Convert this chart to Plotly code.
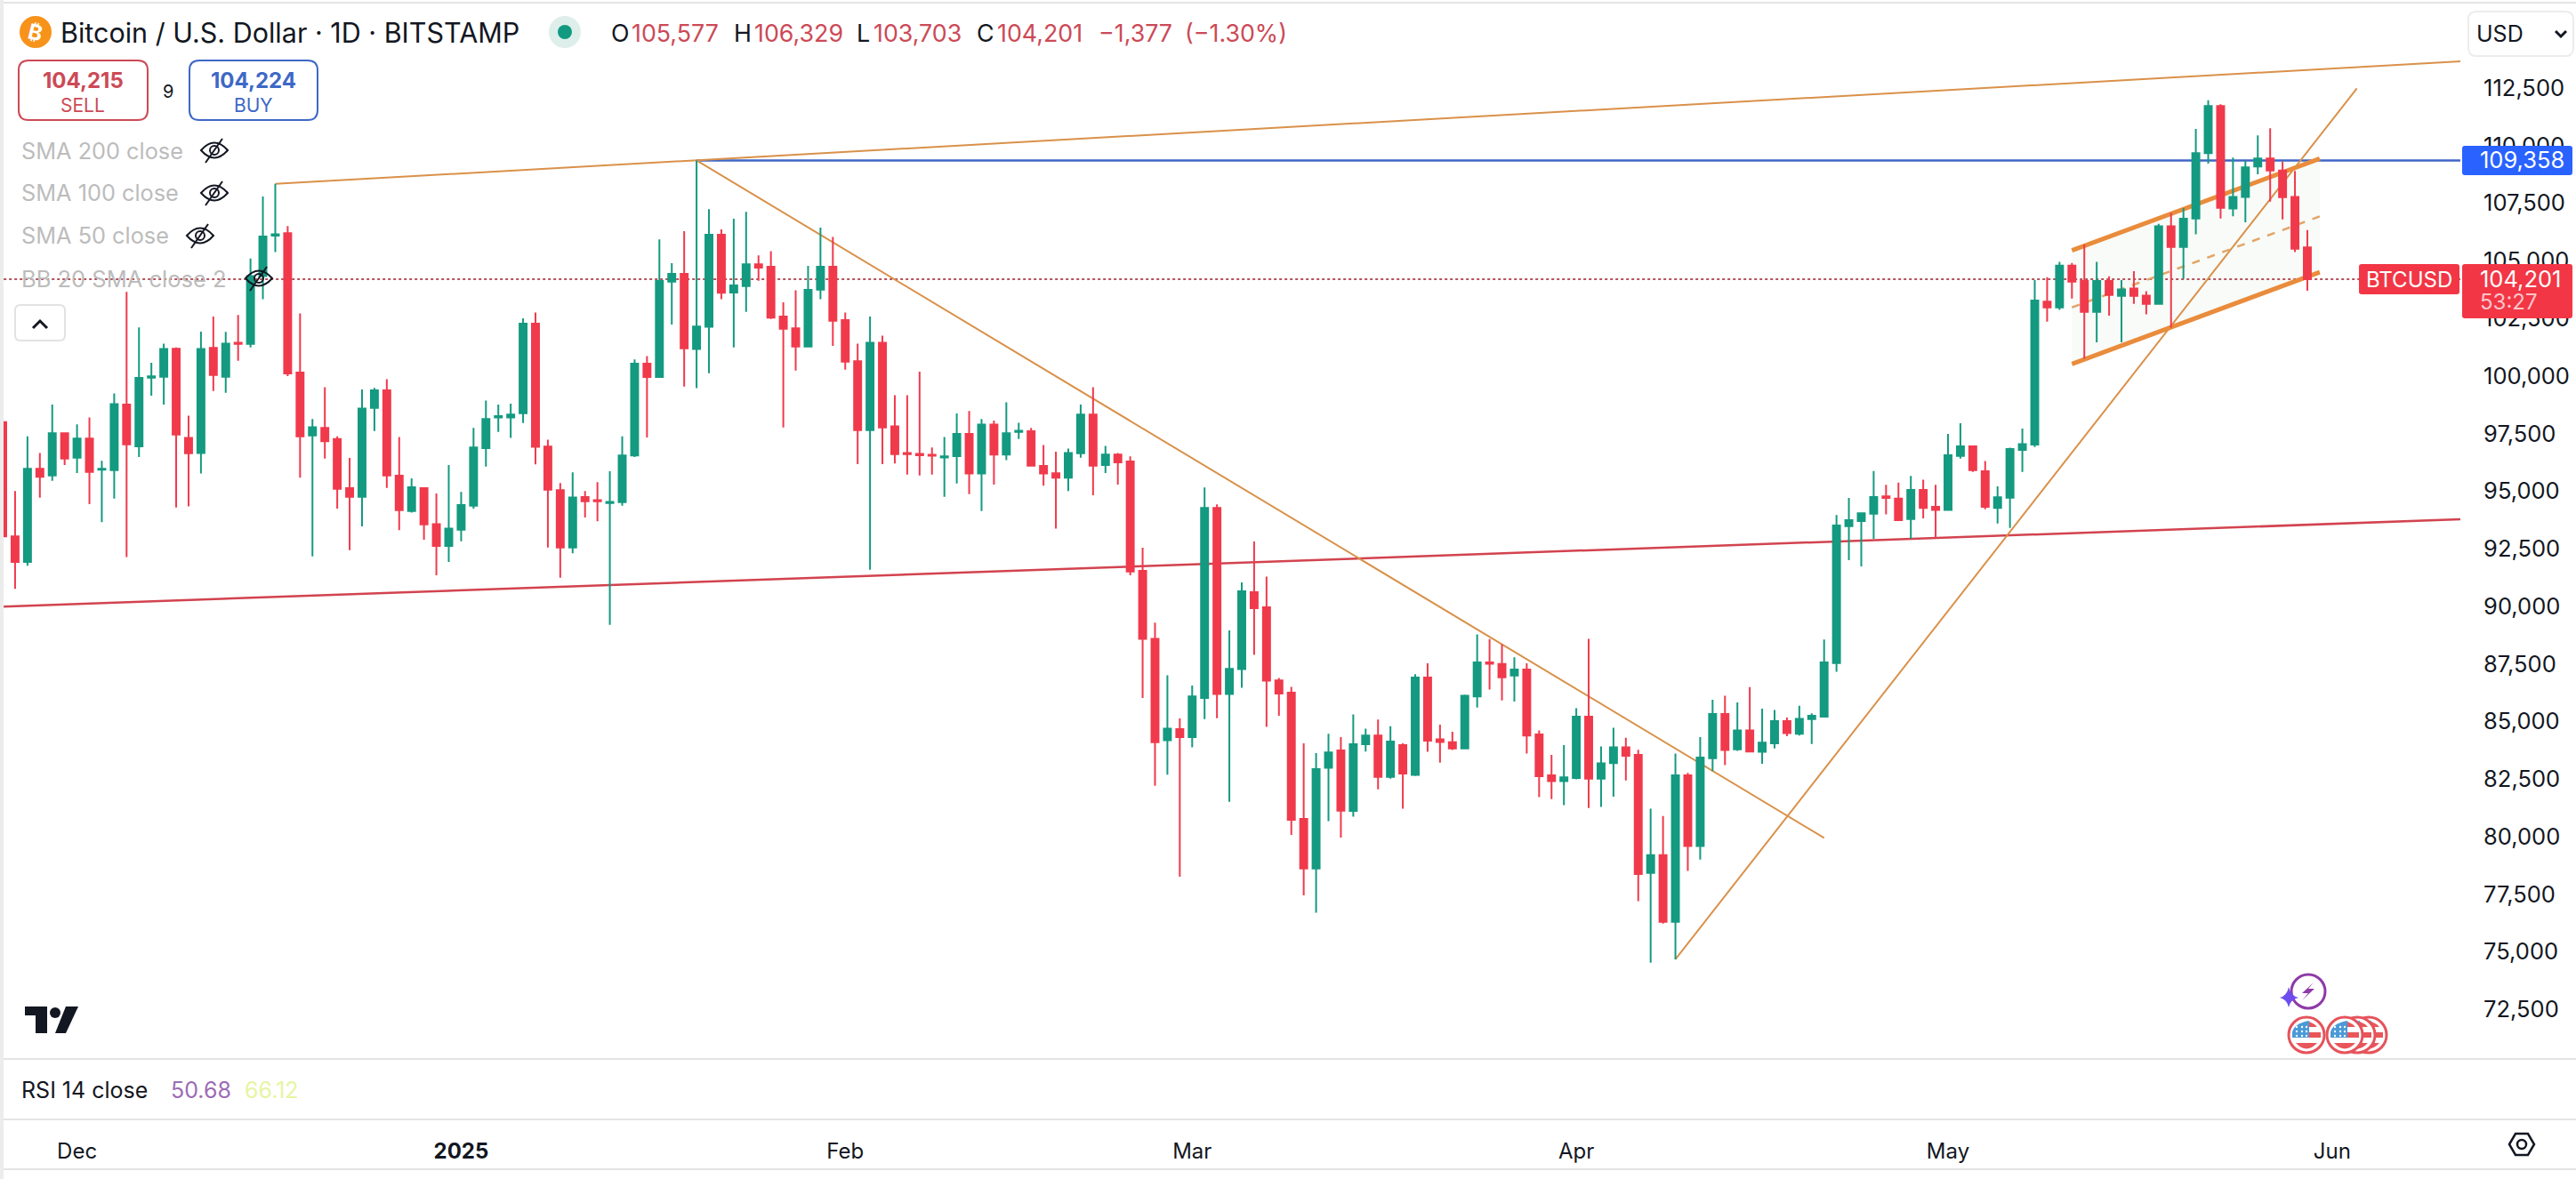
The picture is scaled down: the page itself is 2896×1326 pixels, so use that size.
import pandas as pd
import plotly.graph_objects as go

W, H = 2896, 1326
FONT = "Inter"

# daily candles, BITSTAMP BTCUSD
first_day = "2024-11-25"
opens = [
    97996, 93032, 91928, 95969, 95679, 97514, 96452, 97279, 95928, 95914,
    98755, 96948, 99927, 99968, 101182, 97307, 96659, 101223, 99968, 101444,
    101389, 104340, 106091, 106201, 100148, 97417, 97748, 97265, 95128, 94756,
    98617, 99376, 95666, 94135, 95128, 93570, 92618, 93321, 94369, 96866,
    98203, 98203, 98382, 102271, 96935, 95045, 92549, 94742, 94604, 94480,
    94521, 96548, 100534, 99955, 104091, 104436, 101168, 102133, 106132, 103623,
    103898, 104850, 104740, 102575, 102064, 101278, 103747, 104740, 102423, 100644,
    97651, 101444, 97817, 96659, 96617, 96576, 96466, 96521, 97486, 95762,
    97886, 96590, 97569, 97596, 96093, 95776, 95583, 96645, 98327, 96135,
    96590, 96286, 91541, 88587, 84186, 84673, 84319, 86017, 94274, 86195,
    87273, 90611, 89961, 86785, 86254, 80774, 78618, 82990, 83743, 81114,
    84009, 84393, 82591, 83979, 82679, 86904, 84230, 84097, 83832, 86091,
    87568, 87494, 86992, 87258, 84437, 82665, 82414, 82547, 85205, 82517,
    83196, 83876, 83551, 78425, 79194, 76299, 82665, 79593, 83403, 85323,
    83787, 84614, 83684, 84053, 85013, 84466, 85102, 85205, 87539, 93476,
    93698, 94023, 94776, 94673, 93786, 95057, 94318, 94185, 96530, 96942,
    95860, 94274, 94717, 96787, 97019, 103222, 102976, 104790, 104121, 102782,
    104121, 103477, 103799, 103490, 103130, 106502, 105601, 106836, 109668, 111714,
    107274, 107776, 109089, 109436, 108921, 107776, 105577,
]
highs = [
    97996, 95004, 97376, 96659, 98755, 97514, 97900, 98203, 96314, 99237,
    103650, 102106, 100575, 101402, 101237, 98272, 101926, 102575, 101913, 102643,
    105098, 107787, 108339, 106505, 102712, 98134, 99513, 97376, 96438, 99417,
    99486, 99858, 97348, 95555, 95128, 94894, 96135, 94963, 97748, 98934,
    98755, 98796, 102506, 102754, 97238, 95349, 95817, 95004, 95390, 95859,
    97376, 100713, 100865, 105925, 104891, 106284, 109358, 107236, 106367, 106822,
    107125, 105236, 105415, 103195, 103719, 104781, 106436, 106036, 102754, 101402,
    102575, 101747, 99168, 99168, 100189, 96893, 97348, 98369, 98479, 98134,
    98065, 98851, 97969, 97748, 97003, 96714, 96852, 98755, 99513, 96962,
    96659, 96507, 92546, 89296, 87007, 85131, 86564, 95160, 94421, 88957,
    91039, 92812, 91290, 86889, 86505, 84053, 83625, 84466, 84319, 85308,
    84688, 85087, 84791, 84053, 87051, 87524, 84865, 84555, 86165, 88779,
    88573, 88351, 87790, 87524, 84614, 83551, 83979, 85574, 88587, 83920,
    84732, 84289, 83772, 81217, 80892, 83610, 82768, 84319, 85943, 86121,
    85825, 86490, 85560, 85500, 85175, 85678, 85353, 88558, 93964, 94702,
    94037, 95869, 95278, 95367, 95662, 95500, 95278, 97482, 97945, 96967,
    96311, 95204, 96890, 97714, 104161, 104290, 104958, 104906, 105704, 104958,
    104327, 104160, 104546, 103683, 106605, 107081, 107287, 110723, 111971, 111791,
    109475, 109346, 110440, 110749, 109307, 108896, 106329,
]
lows = [
    92900, 90757, 91763, 94714, 95445, 96135, 95790, 94438, 93652, 94673,
    92135, 96479, 99141, 98755, 94287, 94342, 95762, 99348, 99265, 100658,
    101237, 103333, 105374, 99996, 95583, 92163, 96410, 94245, 92439, 93473,
    97610, 95142, 93308, 94066, 92894, 91349, 91928, 92825, 94245, 96065,
    97569, 97307, 97955, 96162, 92549, 91239, 92301, 93859, 93694, 89198,
    94369, 96479, 97334, 99955, 102230, 99541, 99472, 100120, 103333, 101237,
    102781, 104133, 102478, 97762, 100230, 101278, 103333, 101306, 100272, 96176,
    91584, 96176, 96203, 95721, 95679, 95721, 94756, 95335, 94866, 94135,
    95280, 96341, 97265, 96107, 95238, 93377, 95004, 96452, 94825, 95790,
    95280, 91349, 86017, 82207, 82694, 78263, 83876, 85102, 85146, 81513,
    86461, 87893, 84762, 85249, 80080, 77451, 76698, 80671, 79962, 80863,
    83699, 82059, 82517, 81217, 82635, 83684, 83211, 83758, 83832, 85604,
    86387, 85914, 85870, 83610, 81720, 81631, 81365, 82488, 81247, 81291,
    81734, 82443, 77200, 74527, 76225, 74674, 78514, 79002, 82842, 83108,
    83728, 83699, 83167, 83832, 84363, 84393, 84023, 85175, 87155, 92000,
    91733, 92930, 93993, 93698, 92930, 93816, 92959, 94185, 96414, 95835,
    94215, 93594, 93402, 95835, 96916, 102360, 102873, 103362, 100749, 101457,
    102615, 101457, 103130, 102679, 103130, 102100, 104224, 106154, 109217, 106836,
    106927, 106669, 108754, 107570, 106798, 105382, 103703,
]
closes = [
    93032, 91928, 95969, 95625, 97514, 96410, 97279, 95831, 95969, 98782,
    97031, 99913, 99982, 101168, 97458, 96645, 101168, 100037, 101402, 101389,
    104340, 106050, 106146, 100106, 97376, 97776, 97169, 95100, 94756, 98589,
    99376, 95679, 94177, 95169, 93556, 92618, 93377, 94397, 96893, 98134,
    98258, 98327, 102271, 96921, 95059, 92549, 94728, 94562, 94562, 94535,
    96548, 100534, 99955, 104119, 104436, 101196, 102147, 106132, 103609, 103926,
    104850, 104698, 102533, 102050, 101278, 103733, 104740, 102395, 100616, 97651,
    101444, 97762, 96604, 96604, 96562, 96535, 96507, 97486, 95762, 97886,
    96590, 97514, 97624, 96107, 95762, 95583, 96659, 98327, 96107, 96590,
    96245, 91515, 88587, 84097, 84688, 84319, 86091, 94274, 86195, 87288,
    90655, 89917, 86771, 86209, 80730, 78618, 82930, 83654, 81129, 84009,
    84393, 82591, 84127, 82738, 86904, 84171, 84112, 83832, 86121, 87568,
    87509, 86918, 87258, 84393, 82620, 82414, 82576, 85205, 82517, 83182,
    83876, 83507, 78381, 79194, 76299, 82665, 79593, 83433, 85323, 83758,
    84614, 83699, 84083, 85013, 84496, 85116, 85249, 87568, 93506, 93742,
    94037, 94746, 94702, 93742, 95057, 94274, 94185, 96555, 96942, 95912,
    94318, 94732, 96825, 97044, 103273, 102977, 104790, 104095, 102782, 104121,
    103516, 103760, 103477, 103130, 106502, 105601, 106823, 109668, 111714, 107300,
    107776, 109050, 109436, 108921, 107763, 105524, 104201,
]
days = pd.date_range(first_day, periods=len(opens))

# drawings on the chart
top_x, top_y = ["2024-12-17", "2025-06-11 08:24"], [108339, 113658]
fall_x, fall_y = ["2025-01-20", "2025-04-21"], [109358, 79947]
rise_x, rise_y = ["2025-04-09", "2025-06-03"], [74674, 112486]
support_x, support_y = ["2024-11-25 02:00", "2025-06-11 08:24"], [89990, 93775]
peak_x, peak_y = ["2025-01-20", "2025-06-11 08:24"], [109358, 109358]
last_x, last_y = ["2024-11-25 02:00", "2025-06-11 08:24"], [104201, 104201]
channel_x = ["2025-05-11", "2025-05-31"]
channel_up = [105447, 109436]
channel_mid = [102976, 106927]
channel_low = [100517, 104507]

price_ticks = list(range(72500, 112501, 2500))
month_days = ["2024-12-01", "2025-01-01", "2025-02-01", "2025-03-01", "2025-04-01", "2025-05-01", "2025-06-01"]
month_names = ["Dec", "<b>2025</b>", "Feb", "Mar", "Apr", "May", "Jun"]

ORANGE = "#d9914a"
GREEN = "#149a80"
RED = "#f03a4c"


def px(x):
    return x / W


def py(y):
    return 1 - y / H


def trend(xs, ys, color=ORANGE, width=2, dash="solid"):
    return dict(type="line", xref="x", yref="y", layer="below", x0=xs[0], x1=xs[1], y0=ys[0], y1=ys[1],
                line=dict(color=color, width=width, dash=dash))


def path(cmds, **kw):
    # cmds are ("M", x, y) / ("L", x, y) / ("Q", cx, cy, x, y) / ("Z",) in screen pixels
    parts = []
    for c in cmds:
        vals = list(c[1:])
        pairs = [f"{px(vals[i]):.5f},{py(vals[i + 1]):.5f}" for i in range(0, len(vals), 2)]
        parts.append(c[0] + " " + " ".join(pairs))
    kw.setdefault("line", dict(width=0))
    return dict(type="path", xref="paper", yref="paper", path=" ".join(parts), **kw)


def round_box(x0, y0, x1, y1, r, **kw):
    return path([("M", x0 + r, y0), ("L", x1 - r, y0), ("Q", x1, y0, x1, y0 + r), ("L", x1, y1 - r),
                 ("Q", x1, y1, x1 - r, y1), ("L", x0 + r, y1), ("Q", x0, y1, x0, y1 - r), ("L", x0, y0 + r),
                 ("Q", x0, y0, x0 + r, y0), ("Z",)], **kw)


def circle(cx, cy, r, fill="rgba(0,0,0,0)", color=None, width=0):
    return dict(type="circle", xref="paper", yref="paper", x0=px(cx - r), x1=px(cx + r), y0=py(cy + r), y1=py(cy - r),
                fillcolor=fill, line=dict(color=color or fill, width=width))


def rule(y, color="#e4e4e4", width=2):
    return dict(type="line", xref="paper", yref="paper", x0=0, x1=1, y0=py(y), y1=py(y), line=dict(color=color, width=width))


def label(x, y, text, size=25, color="#131722", anchor="left", angle=0):
    return dict(xref="paper", yref="paper", x=px(x), y=py(y), text=text, showarrow=False, xanchor=anchor, yanchor="middle",
                font=dict(family=FONT, size=size, color=color), borderpad=0, textangle=angle)


def eye(cx, cy):
    line = dict(color="#131722", width=2)
    return [
        path([("M", cx - 15, cy), ("Q", cx, cy - 17, cx + 15, cy), ("Q", cx, cy + 17, cx - 15, cy), ("Z",)], line=line),
        circle(cx, cy, 5, color="#131722", width=2),
        path([("M", cx + 9, cy - 13), ("L", cx - 10, cy + 14)], line=line),
    ]


def flag(cx, cy):
    out = [circle(cx, cy, 20, fill="#ffffff", color="#e5535b", width=3)]
    out.append(path([("M", cx - 16, cy - 3), ("Q", cx - 14, cy - 13, cx + 3, cy - 16), ("L", cx + 3, cy + 3), ("L", cx - 16, cy + 3), ("Z",)],
                    fillcolor="#4a9ad8"))
    out.append(path([("M", cx + 3, cy - 3), ("L", cx + 16, cy - 3), ("L", cx + 16, cy + 3), ("L", cx + 3, cy + 3), ("Z",)], fillcolor="#e9565a"))
    out.append(path([("M", cx + 3, cy - 15), ("L", cx + 9, cy - 12), ("L", cx + 12, cy - 9), ("L", cx + 3, cy - 9), ("Z",)], fillcolor="#e9565a"))
    out.append(path([("M", cx - 12, cy + 9), ("L", cx + 12, cy + 9), ("Q", cx, cy + 22, cx - 12, cy + 9), ("Z",)], fillcolor="#e9565a"))
    for dx in (-11, -5, 0):
        for dy in (-9, -4, 1):
            out.append(circle(cx + dx, cy + dy, 1.2, fill="#ffffff"))
    return out


# pane drawings sit under the candles
shapes = [
    dict(type="path", xref="x", yref="y", layer="below", fillcolor="#f8fbf7", line=dict(width=0),
         path=f"M {channel_x[0]},{channel_low[0]} L {channel_x[1]},{channel_low[1]} L {channel_x[1]},{channel_up[1]} L {channel_x[0]},{channel_up[0]} Z"),
    trend(last_x, last_y, color="#b5525c", width=2, dash="dot"),
    trend(peak_x, peak_y, color="#3f66c6", width=2.5),
    trend(support_x, support_y, color="#d2434f", width=2.5),
    trend(top_x, top_y),
    trend(fall_x, fall_y),
    trend(rise_x, rise_y),
    trend(channel_x, channel_up, color="#e98c3c", width=5),
    trend(channel_x, channel_low, color="#e98c3c", width=5),
    trend(channel_x, channel_mid, color="#e3a468", width=2.5, dash="dash"),
]

# screen furniture
shapes += [
    rule(3), rule(1191), rule(1259), rule(1315),
    dict(type="rect", xref="paper", yref="paper", x0=0, x1=px(4), y0=0, y1=1, fillcolor="#ececec", line=dict(width=0)),
    circle(40, 36, 18, fill="#f7931a"),
    circle(635, 36, 18, fill="#deefeb"),
    circle(635, 36, 8, fill="#129a80"),
    round_box(21, 68, 166, 135, 11, fillcolor="#ffffff", line=dict(color="#cc4a55", width=2)),
    round_box(213, 68, 357, 135, 11, fillcolor="#ffffff", line=dict(color="#3e68c6", width=2)),
    round_box(17, 343, 73, 383, 6, fillcolor="#ffffff", line=dict(color="#e2e2e2", width=2)),
    path([("M", 37, 369), ("L", 45, 361), ("L", 53, 369)], line=dict(color="#131722", width=3)),
    round_box(2775, 13, 2893, 63, 9, fillcolor="#ffffff", line=dict(color="#ececec", width=2)),
    path([("M", 2873, 35), ("L", 2879, 41), ("L", 2885, 35)], line=dict(color="#131722", width=3)),
    round_box(2768, 164, 2892, 197, 3, fillcolor="#2962ff"),
    round_box(2768, 297, 2892, 358, 3, fillcolor="#f23645"),
    round_box(2652, 297, 2765, 331, 3, fillcolor="#f23645"),
    # TradingView mark
    path([("M", 28, 1132), ("L", 53, 1132), ("L", 53, 1162), ("L", 40, 1162), ("L", 40, 1142), ("L", 28, 1142), ("Z",)], fillcolor="#131722"),
    circle(62, 1139, 6, fill="#131722"),
    path([("M", 74, 1132), ("L", 88, 1132), ("L", 74, 1162), ("L", 62, 1162), ("Z",)], fillcolor="#131722"),
    # settings hexagon
    path([("M", 2821, 1287), ("L", 2828, 1275), ("L", 2842, 1275), ("L", 2849, 1287), ("L", 2842, 1299), ("L", 2828, 1299), ("Z",)],
         line=dict(color="#131722", width=2.5)),
    circle(2835, 1287, 5, color="#131722", width=2.5),
    # event marks
    circle(2595, 1115, 19, color="#8e3aa8", width=3),
    path([("M", 2601, 1105), ("L", 2588, 1117), ("L", 2595, 1117), ("L", 2588, 1125), ("L", 2602, 1112), ("L", 2595, 1112), ("Z",)], fillcolor="#8e3aa8"),
    path([("M", 2573, 1110), ("Q", 2575, 1120, 2584, 1122), ("Q", 2575, 1124, 2573, 1133), ("Q", 2571, 1124, 2563, 1122), ("Q", 2571, 1120, 2573, 1110), ("Z",)],
         fillcolor="#6d4df0"),
]
shapes += eye(241, 169) + eye(241, 217) + eye(225, 265) + eye(291, 313)
for fx in (2663, 2650, 2636, 2593):
    shapes += flag(fx, 1164)

SOFT = "#bcbcbc"
OHLC_RED = "#cc4a57"
annotations = [
    label(40, 36, "<b>₿</b>", size=24, color="#ffffff", anchor="center", angle=14),
    label(67, 36, "Bitcoin / U.S. Dollar · 1D · BITSTAMP", size=30.5),
    label(686, 37, "O", size=26.8), label(709, 37, "105,577", size=26.8, color=OHLC_RED),
    label(824, 37, "H", size=26.8), label(847, 37, "106,329", size=26.8, color=OHLC_RED),
    label(962, 37, "L", size=26.8), label(981, 37, "103,703", size=26.8, color=OHLC_RED),
    label(1097, 37, "C", size=26.8), label(1120, 37, "104,201", size=26.8, color=OHLC_RED),
    label(1234, 37, "−1,377", size=26.8, color=OHLC_RED), label(1331, 37, "(−1.30%)", size=26.8, color=OHLC_RED),
    label(93, 91, "<b>104,215</b>", size=24, color="#cc4a55", anchor="center"),
    label(93, 118, "SELL", size=21, color="#cc4a55", anchor="center"),
    label(189, 103, "9", size=20, anchor="center"),
    label(285, 91, "<b>104,224</b>", size=24, color="#3e68c6", anchor="center"),
    label(285, 118, "BUY", size=21, color="#3e68c6", anchor="center"),
    label(23, 169, "SMA 200 close", size=25.3, color=SOFT), label(23, 217, "SMA 100 close", size=25.3, color=SOFT),
    label(23, 265, "SMA 50 close", size=25.3, color=SOFT), label(23, 313, "BB 20 SMA close 2", size=25.5, color=SOFT),
    label(23, 1226, "RSI 14 close"), label(191, 1226, "50.68", color="#9c6bb5"), label(274, 1226, "66.12", color="#e6f5a0"),
    label(2783, 38, "USD", size=25),
    label(2787, 180, "109,358", size=25.5, color="#ffffff"),
    label(2787, 313, "104,201", size=25.5, color="#ffffff"),
    label(2787, 340, "53:27", size=24, color="#fbc5ca"),
    label(2708, 314, "BTCUSD", size=24, color="#ffffff", anchor="center"),
]

fig = go.Figure(go.Candlestick(
    x=days, open=opens, high=highs, low=lows, close=closes,
    increasing=dict(line=dict(color=GREEN, width=2), fillcolor=GREEN),
    decreasing=dict(line=dict(color=RED, width=2), fillcolor=RED),
    whiskerwidth=0,
))
fig.update_layout(
    width=W, height=H, margin=dict(l=0, r=0, t=0, b=0, pad=0), autosize=False,
    paper_bgcolor="#ffffff", plot_bgcolor="#ffffff", showlegend=False,
    boxgap=0.43, boxgroupgap=0,
    shapes=shapes, annotations=annotations,
    xaxis=dict(domain=[px(4), px(2766)], range=["2024-11-25 01:41", "2025-06-11 08:24"], rangeslider=dict(visible=False),
               anchor="free", position=py(1259), tickmode="array", tickvals=month_days, ticktext=month_names,
               ticks="outside", ticklen=14, tickcolor="rgba(0,0,0,0)", showgrid=False, zeroline=False, showline=False,
               tickfont=dict(family=FONT, size=24, color="#131722")),
    yaxis=dict(domain=[py(1191), py(5)], range=[70349, 116128], side="right", anchor="x", tickmode="array", tickvals=price_ticks,
               tickformat=",d", ticks="outside", ticklen=20, tickcolor="rgba(0,0,0,0)", showgrid=False, zeroline=False, showline=False,
               tickfont=dict(family=FONT, size=25.5, color="#131722")),
)
# the default page has an 8px body margin, which would shift the whole chart
fig.write_html("out.html", config={"displayModeBar": False}, post_script="document.body.style.margin='0';")
